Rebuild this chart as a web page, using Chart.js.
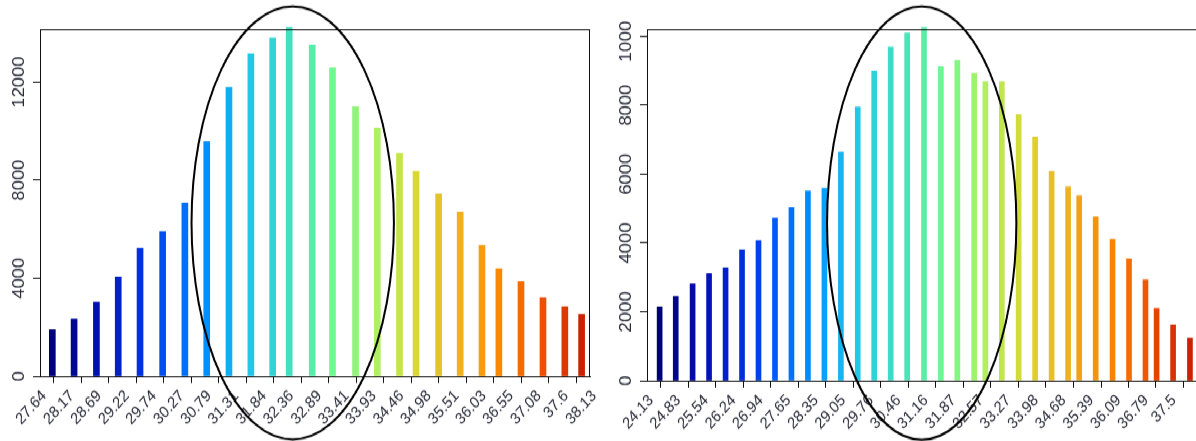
<!DOCTYPE html>
<html>
<head>
<meta charset="utf-8">
<script src="https://cdn.jsdelivr.net/npm/chart.js@4"></script>
<style>
  html, body { margin: 0; padding: 0; background: #fff; overflow: hidden; }
  body { width: 1196px; height: 441px; }
  /* the source picture is stretched a little vertically */
  #stage { position: absolute; left: 0; top: 0; width: 1210px; height: 394px; transform: scaleY(1.12); transform-origin: 0 0; }
  #leftChart { position: absolute; left: 0; top: 0; }
  #rightChart { position: absolute; left: 596px; top: 0; }
</style>
</head>
<body>
<div id="stage">
  <canvas id="leftChart" width="596" height="394"></canvas>
  <canvas id="rightChart" width="614" height="394"></canvas>
</div>
<script>
// left panel
var leftX = [27.875, 28.29, 28.716, 29.132, 29.548, 29.979, 30.403, 30.82, 31.244, 31.662, 32.078, 32.393, 32.832,
             33.219, 33.658, 34.074, 34.497, 34.812, 35.243, 35.654, 36.07, 36.392, 36.814, 37.233, 37.65, 37.97];
var leftY = [1900, 2340, 3020, 4050, 5230, 5900, 7070, 9580, 11780, 13150, 13800, 14230, 13500,
             12580, 10990, 10130, 9090, 8350, 7440, 6700, 5340, 4380, 3870, 3200, 2830, 2530];
var leftXTicks = [27.64, 28.17, 28.69, 29.22, 29.74, 30.27, 30.79, 31.31, 31.84, 32.36, 32.89,
                  33.41, 33.93, 34.46, 34.98, 35.51, 36.03, 36.55, 37.08, 37.6, 38.13];
var leftYTicks = [0, 4000, 8000, 12000];

// right panel
var rightX = [24.453, 24.865, 25.296, 25.717, 26.139, 26.56, 26.981, 27.403, 27.824, 28.245, 28.667, 29.088,
              29.519, 29.94, 30.362, 30.783, 31.214, 31.645, 32.066, 32.497, 32.782, 33.203, 33.634, 34.055,
              34.477, 34.898, 35.182, 35.604, 36.035, 36.456, 36.877, 37.161, 37.583, 38.014];
var rightY = [2140, 2450, 2810, 3110, 3280, 3800, 4070, 4720, 5030, 5510, 5590, 6640,
              7950, 9000, 9690, 10090, 10260, 9130, 9300, 8920, 8690, 8690, 7730, 7080,
              6080, 5630, 5370, 4760, 4110, 3540, 2930, 2100, 1620, 1240];
var rightXTicks = [24.13, 24.83, 25.54, 26.24, 26.94, 27.65, 28.35, 29.05, 29.76, 30.46,
                   31.16, 31.87, 32.57, 33.27, 33.98, 34.68, 35.39, 36.09, 36.79, 37.5];
var rightYTicks = [0, 2000, 4000, 6000, 8000, 10000];

// jet-like ramp for the bars
var rampStops = [
  [0.00, [0, 0, 122]], [0.08, [0, 16, 176]], [0.16, [0, 48, 224]], [0.22, [0, 96, 248]],
  [0.28, [0, 144, 255]], [0.36, [32, 200, 232]], [0.44, [64, 224, 192]], [0.52, [112, 248, 144]],
  [0.60, [176, 240, 96]], [0.68, [216, 216, 48]], [0.76, [240, 176, 32]], [0.84, [250, 136, 0]],
  [0.92, [236, 80, 0]], [1.00, [204, 32, 0]]
];
function rampColors(n) {
  var out = [];
  for (var i = 0; i < n; i++) {
    var t = n > 1 ? i / (n - 1) : 0;
    var k = 1;
    while (k < rampStops.length - 1 && rampStops[k][0] < t) k++;
    var a = rampStops[k - 1], b = rampStops[k];
    var f = (t - a[0]) / (b[0] - a[0]);
    var c = a[1].map(function(v, j) { return Math.round(v + (b[1][j] - v) * f); });
    out.push('rgb(' + c.join(',') + ')');
  }
  return out;
}

// box round the plot area, the ellipse, and the clipped top label on the right panel
var framePlugin = {
  id: 'frame',
  afterDraw: function(chart) {
    var ctx = chart.ctx, a = chart.chartArea;
    var opts = chart.options.plugins.frame;
    ctx.save();
    if (opts.clipTop) ctx.clearRect(0, 0, a.left - 9, opts.clipTop);
    ctx.strokeStyle = '#111';
    ctx.lineWidth = 1;
    var l = Math.round(a.left) + 0.5, t = Math.round(a.top) + 0.5;
    var r = Math.round(a.right) - 0.5, b = Math.round(a.bottom) + 0.5;
    ctx.strokeRect(l, t, r - l, b - t);
    var xs = chart.scales.x, ys = chart.scales.y, e = opts.ellipse;
    var cx = xs.getPixelForValue(e.x), cy = ys.getPixelForValue(e.y);
    var rx = Math.abs(xs.getPixelForValue(e.x + e.rx) - cx);
    var ry = Math.abs(ys.getPixelForValue(e.y + e.ry) - cy);
    ctx.beginPath();
    ctx.ellipse(cx, cy, rx, ry, 0, 0, Math.PI * 2);
    ctx.lineWidth = 2;
    ctx.strokeStyle = '#000';
    ctx.stroke();
    ctx.restore();
  }
};

var fontFamily = "'Liberation Sans', Arial, sans-serif";

function makeChart(id, xs, ys, xTicks, yTicks, p) {
  return new Chart(document.getElementById(id), {
    type: 'bar',
    data: {
      datasets: [{
        data: xs.map(function(x, i) { return {x: x, y: ys[i]}; }),
        backgroundColor: rampColors(xs.length),
        barThickness: p.barWidth,
        clip: false
      }]
    },
    options: {
      responsive: false,
      animation: false,
      events: [],
      layout: { padding: { top: p.top, right: p.right, left: 0, bottom: 0 } },
      plugins: {
        legend: { display: false },
        tooltip: { enabled: false },
        frame: { ellipse: p.ellipse, clipTop: p.clipTop || 0 }
      },
      scales: {
        x: {
          type: 'linear',
          min: p.xMin,
          max: p.xMax,
          offset: false,
          afterBuildTicks: function(s) { s.ticks = xTicks.map(function(v) { return {value: v}; }); },
          afterFit: function(s) { s.height = p.xHeight; s.paddingLeft = 0; s.paddingRight = 0; },
          grid: { drawOnChartArea: false, drawTicks: true, tickLength: 6, color: '#111' },
          border: { display: true, color: '#111', width: 1 },
          ticks: {
            autoSkip: false,
            minRotation: 45,
            maxRotation: 45,
            padding: 3,
            labelOffset: 4,
            color: '#2a2a3a',
            font: { family: fontFamily, size: 14.5 },
            callback: function(v) { return String(v); }
          }
        },
        y: {
          type: 'linear',
          min: 0,
          max: p.yMax,
          afterBuildTicks: function(s) { s.ticks = yTicks.map(function(v) { return {value: v}; }); },
          afterFit: function(s) { s.width = p.yWidth; s.paddingTop = 0; s.paddingBottom = 0; },
          grid: { drawOnChartArea: false, drawTicks: true, tickLength: 7, color: '#111' },
          border: { display: true, color: '#111', width: 1 },
          ticks: {
            autoSkip: false,
            minRotation: 90,
            maxRotation: 90,
            crossAlign: 'center',
            padding: -9,
            color: '#2a2a3a',
            font: { family: fontFamily, size: 16.5 },
            callback: function(v) { return String(v); }
          }
        }
      }
    },
    plugins: [framePlugin]
  });
}

makeChart('leftChart', leftX, leftY, leftXTicks, leftYTicks, {
  xMin: 27.64, xMax: 38.13, yMax: 14160,
  top: 26, right: 6, yWidth: 40, xHeight: 58, barWidth: 6,
  ellipse: { x: 32.46, y: 6254, rx: 1.93, ry: 8830 }
});

makeChart('rightChart', rightX, rightY, rightXTicks, rightYTicks, {
  xMin: 24.13, xMax: 38.22, yMax: 10210,
  top: 26, right: 12, yWidth: 51, xHeight: 54, barWidth: 5,
  ellipse: { x: 31.155, y: 4579, rx: 2.42, ry: 6293 },
  clipTop: 18
});
</script>
</body>
</html>
